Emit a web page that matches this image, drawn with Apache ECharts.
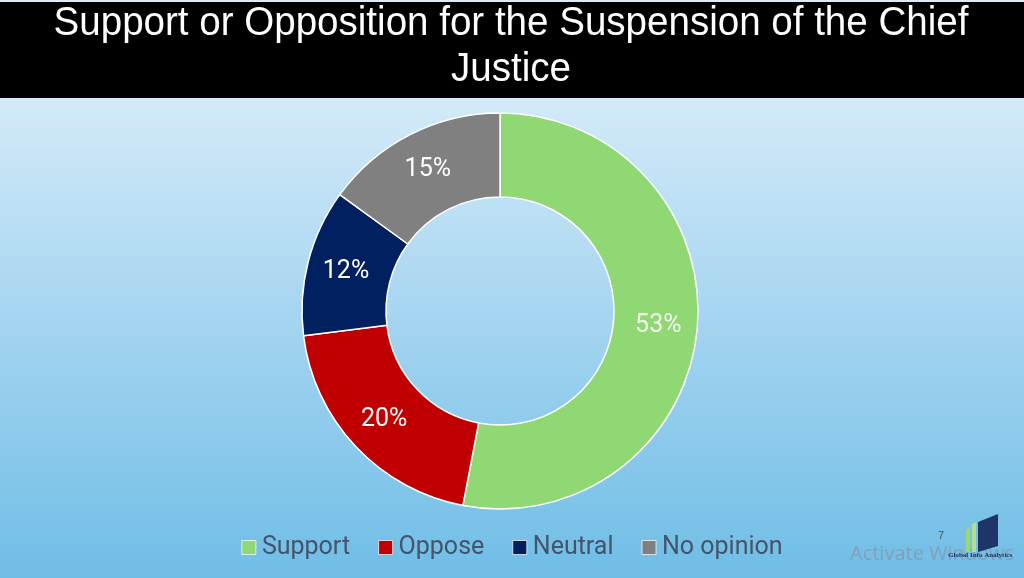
<!DOCTYPE html>
<html>
<head>
<meta charset="utf-8">
<script src="https://cdn.jsdelivr.net/npm/echarts@6/dist/echarts.min.js"></script>
<style>
html,body{margin:0;padding:0;width:1024px;height:578px;overflow:hidden;}
#chart{width:1024px;height:578px;}
</style>
</head>
<body>
<div id="chart"></div>
<script>
const categories = ["Support", "Oppose", "Neutral", "No opinion"];
const values = [53, 20, 12, 15];
const colors = ["#8fd873", "#c00000", "#002060", "#808080"];
const titleLines = ["Support or Opposition for the Suspension of the Chief", "Justice"];

const titleFont = '41px "Liberation Sans", Arial, sans-serif';
const chart = echarts.init(document.getElementById('chart'));
chart.setOption({
  backgroundColor: {
    type: 'linear', x: 0, y: 0, x2: 0, y2: 1,
    colorStops: [
      {offset: 0, color: '#d8edf9'},
      {offset: 0.17, color: '#d3eaf8'},
      {offset: 0.6, color: '#9fd2ef'},
      {offset: 1, color: '#6fbde6'}
    ]
  },
  graphic: [
    {type: 'rect', left: 0, top: 2, shape: {width: 1024, height: 96}, style: {fill: '#000'}, z: 0},
    {type: 'text', x: 511, y: 24, scaleX: 0.94, style: {text: titleLines[0], x: 0, y: 0, fill: '#fff', font: titleFont, textAlign: 'center', textVerticalAlign: 'middle'}, z: 1},
    {type: 'text', x: 511, y: 70, scaleX: 0.94, style: {text: titleLines[1], x: 0, y: 0, fill: '#fff', font: titleFont, textAlign: 'center', textVerticalAlign: 'middle'}, z: 1},
    {type: 'text', left: 850, top: 544, style: {text: 'Activate Windows', fill: 'rgba(135,150,165,0.75)', font: '20px "Open Sans", sans-serif'}, z: 1},
    {type: 'polygon', shape: {points: [[966, 530], [970, 528], [970, 552], [966, 552]]}, style: {fill: '#9ed86a'}, z: 2},
    {type: 'polygon', shape: {points: [[972, 524], [976, 522], [976, 552], [972, 552]]}, style: {fill: '#b5e08a'}, z: 2},
    {type: 'polygon', shape: {points: [[978, 522], [998, 514], [998, 546], [978, 552]]}, style: {fill: '#1f3468'}, z: 2},
    {type: 'text', left: 938, top: 530, style: {text: '7', fill: '#555', font: '11px "Liberation Sans", sans-serif'}, z: 3},
    {type: 'text', left: 948, top: 552, style: {text: 'Global Info Analytics', fill: '#1f2f5f', font: 'bold 7px "Liberation Serif", serif'}, z: 3}
  ],
  legend: {
    top: 530,
    left: 'center',
    icon: 'rect',
    itemWidth: 14,
    itemHeight: 14,
    itemGap: 28,
    itemStyle: {borderColor: 'rgba(255,255,255,0.7)', borderWidth: 1},
    textStyle: {color: '#44546a', fontSize: 25, fontFamily: 'Roboto, "Noto Sans", sans-serif', padding: [0, 0, 0, 1]},
    data: categories
  },
  series: [{
    type: 'pie',
    center: [500, 311],
    radius: [114, 198],
    startAngle: 90,
    clockwise: true,
    silent: true,
    itemStyle: {borderColor: '#ffffff', borderWidth: 1.5},
    label: {
      show: true,
      position: 'inside',
      formatter: '{c}%',
      color: '#ffffff',
      fontSize: 25,
      fontFamily: 'Roboto, "Noto Sans", sans-serif',
      padding: [4, 0, 0, 0]
    },
    labelLine: {show: false},
    data: categories.map((c, i) => ({name: c, value: values[i], itemStyle: {color: colors[i]}, label: i === 0 ? {color: '#f0faea'} : {}}))
  }]
});
</script>
</body>
</html>
